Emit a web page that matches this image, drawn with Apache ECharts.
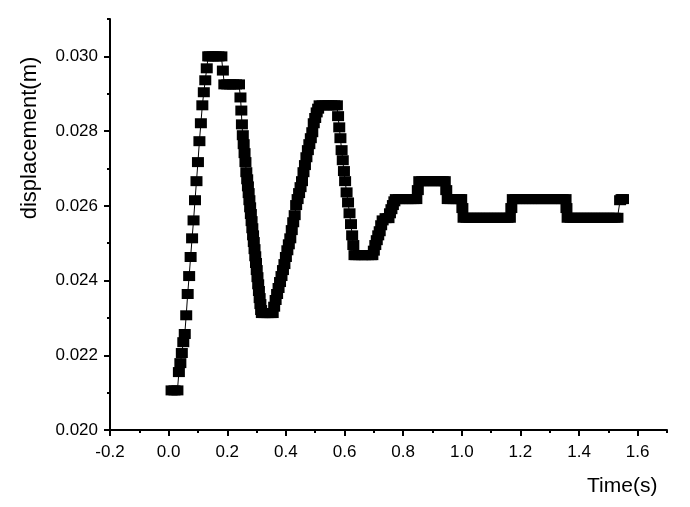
<!DOCTYPE html>
<html>
<head>
<meta charset="utf-8">
<script src="https://cdn.jsdelivr.net/npm/echarts@6/dist/echarts.min.js"></script>
<style>
html,body{margin:0;padding:0;background:#fff;}
#chart{width:690px;height:507px;}
</style>
</head>
<body>
<div id="chart"></div>
<script>
// Time (s)
const times = [
0.01,0.02,0.03,
0.035,0.04,0.045,0.05,0.055,0.06,0.065,0.07,0.075,0.08,0.085,0.09,0.095,0.1,0.105,0.11,0.115,0.12,0.125,0.13,0.135,
0.14,0.15,0.16,0.17,0.18,
0.185,0.19,0.20,0.21,0.22,0.23,0.24,
0.245,0.248,0.25,0.253,0.256,0.259,0.262,0.265,0.268,0.2705,0.273,0.2755,0.278,0.2805,0.283,0.2855,0.288,0.2905,0.293,0.2955,0.298,0.3005,0.303,0.3055,0.308,0.3105,0.313,0.3155,0.318,
0.325,0.33,0.335,0.34,0.345,0.35,0.355,
0.36,0.365,0.37,0.375,0.38,0.385,0.39,0.395,0.4,0.405,0.41,0.415,0.42,0.425,0.43,0.435,0.44,0.445,0.45,0.455,0.46,0.465,0.47,0.475,0.48,0.485,0.49,0.495,0.5,0.505,0.51,0.515,
0.525,0.535,0.545,0.555,0.565,0.574,
0.578,0.582,0.586,0.59,0.594,0.598,0.602,0.607,0.612,0.617,0.622,0.626,0.63,0.634,
0.64,0.65,0.66,0.67,0.68,0.69,0.695,
0.70,0.705,0.71,0.715,0.72,0.725,0.73,0.74,0.75,0.755,0.76,0.765,0.77,0.775,
0.785,0.795,0.805,0.815,0.825,0.835,0.845,
0.85,0.855,0.865,0.875,0.885,0.895,0.905,0.915,0.925,0.935,0.942,
0.947,0.952,0.962,0.972,0.982,0.992,0.998,
1.002,1.006,1.016,1.026,1.036,1.046,1.056,1.066,1.076,1.086,1.096,1.106,1.116,1.126,1.136,1.146,1.156,1.164,
1.169,1.174,1.184,1.194,1.204,1.214,1.224,1.234,1.244,1.254,1.264,1.274,1.284,1.294,1.304,1.314,1.324,1.334,1.344,1.354,
1.357,1.361,1.371,1.381,1.391,1.401,1.411,1.421,1.431,1.441,1.451,1.461,1.471,1.481,1.491,1.501,1.511,1.521,1.531,
1.54,1.545,1.55
];
// Displacement (m)
const disp = [
0.02106,0.02106,0.02106,
0.02155,0.02179,0.02206,0.02235,0.02257,0.02307,0.02364,0.02412,0.02463,0.02513,0.02561,0.02615,0.02666,0.02717,0.02773,0.02821,0.02869,0.02904,0.02936,0.02968,0.0300,
0.0300,0.0300,0.0300,0.0300,0.0300,
0.02962,0.02925,0.02925,0.02925,0.02925,0.02925,0.02925,
0.02890,0.02855,0.02818,0.02789,0.02765,0.02741,0.02717,0.02690,0.02671,0.02652,0.02634,0.02615,0.02596,0.02578,0.02559,0.02540,0.02521,0.02503,0.02484,0.02465,0.02447,0.02428,0.02409,0.02390,0.02372,0.02353,0.02337,0.02321,0.02313,
0.02313,0.02313,0.02313,0.02313,0.02313,0.02313,0.02313,
0.02330,0.02348,0.02364,0.02380,0.02396,0.02412,0.02428,0.02444,0.02463,0.02481,0.02497,0.02513,0.02535,0.02556,0.02575,0.02602,0.02618,0.02634,0.02650,0.02666,0.02690,0.02709,0.02730,0.02749,0.02765,0.02781,0.02797,0.02821,0.02835,0.02850,0.02860,0.02869,
0.02869,0.02869,0.02869,0.02869,0.02869,0.02869,
0.02840,0.02810,0.02781,0.02749,0.02722,0.02693,0.02666,0.02636,0.02609,0.02580,0.02551,0.02521,0.02495,0.02468,
0.02468,0.02468,0.02468,0.02468,0.02468,0.02468,0.02468,
0.02480,0.02495,0.02508,0.02521,0.02532,0.02548,0.02561,0.02567,0.02567,0.02580,0.02591,0.02602,0.02612,0.02618,
0.02618,0.02618,0.02618,0.02618,0.02618,0.02618,0.02618,
0.02642,0.02666,0.02666,0.02666,0.02666,0.02666,0.02666,0.02666,0.02666,0.02666,0.02666,
0.02642,0.02618,0.02618,0.02618,0.02618,0.02618,0.02618,
0.02594,0.02568,0.02568,0.02568,0.02568,0.02568,0.02568,0.02568,0.02568,0.02568,0.02568,0.02568,0.02568,0.02568,0.02568,0.02568,0.02568,0.02568,
0.02594,0.02618,0.02618,0.02618,0.02618,0.02618,0.02618,0.02618,0.02618,0.02618,0.02618,0.02618,0.02618,0.02618,0.02618,0.02618,0.02618,0.02618,0.02618,0.02618,
0.02594,0.02568,0.02568,0.02568,0.02568,0.02568,0.02568,0.02568,0.02568,0.02568,0.02568,0.02568,0.02568,0.02568,0.02568,0.02568,0.02568,0.02568,0.02568,
0.02615,0.02618,0.02618
];
const xTicks = [-0.2,0.0,0.2,0.4,0.6,0.8,1.0,1.2,1.4,1.6];
const yTicks = [0.020,0.022,0.024,0.026,0.028,0.030];
const xName = 'Time(s)';
const yName = 'displacement(m)';

const FONT = '"Liberation Sans", Arial, sans-serif';
const chart = echarts.init(document.getElementById('chart'), null, {renderer:'canvas'});
const data = times.map((t,i)=>[t, disp[i]]);
const grid = {left:110, right:23, top:19, bottom:77, containLabel:false};

chart.setOption({
  animation:false,
  backgroundColor:'#fff',
  grid: grid,
  xAxis: [
    { type:'value', min:-0.2, max:1.7, interval:0.1, position:'bottom',
      axisLine:{show:true, onZero:false, lineStyle:{color:'#000', width:2}},
      axisTick:{show:true, inside:false, length:3, lineStyle:{color:'#000', width:2}},
      axisLabel:{show:false}, splitLine:{show:false} },
    { type:'value', min:-0.2, max:1.7, interval:0.2, position:'bottom',
      axisLine:{show:false, onZero:false},
      axisTick:{show:true, inside:false, length:6, customValues: xTicks, lineStyle:{color:'#000', width:2}},
      axisLabel:{show:true, customValues: xTicks, margin:14, color:'#000', fontFamily:FONT, fontSize:17,
        formatter:(v)=>v.toFixed(1)},
      splitLine:{show:false} }
  ],
  yAxis: [
    { type:'value', min:0.020, max:0.031, interval:0.001, position:'left',
      axisLine:{show:true, onZero:false, lineStyle:{color:'#000', width:2}},
      axisTick:{show:true, inside:false, length:3, lineStyle:{color:'#000', width:2}},
      axisLabel:{show:false}, splitLine:{show:false} },
    { type:'value', min:0.020, max:0.031, interval:0.002, position:'left',
      axisLine:{show:false, onZero:false},
      axisTick:{show:true, inside:false, length:6, customValues: yTicks, lineStyle:{color:'#000', width:2}},
      axisLabel:{show:true, customValues: yTicks, margin:12, color:'#000', fontFamily:FONT, fontSize:17,
        formatter:(v)=>v.toFixed(3)},
      splitLine:{show:false} }
  ],
  graphic: [
    { type:'text', left:587, top:476, style:{text:xName, fill:'#000', font:'21px '+FONT} },
    { type:'text', x:30, y:138, rotation:Math.PI/2,
      style:{text:yName, fill:'#000', font:'22px '+FONT, align:'center', verticalAlign:'middle'} }
  ],
  series: [{
    type:'line', xAxisIndex:0, yAxisIndex:0, data:data,
    symbol:'rect', symbolSize:[12,10], showSymbol:true, showAllSymbol:true,
    itemStyle:{color:'#000'},
    lineStyle:{color:'#000', width:1},
    emphasis:{disabled:true}
  }]
});
</script>
</body>
</html>
